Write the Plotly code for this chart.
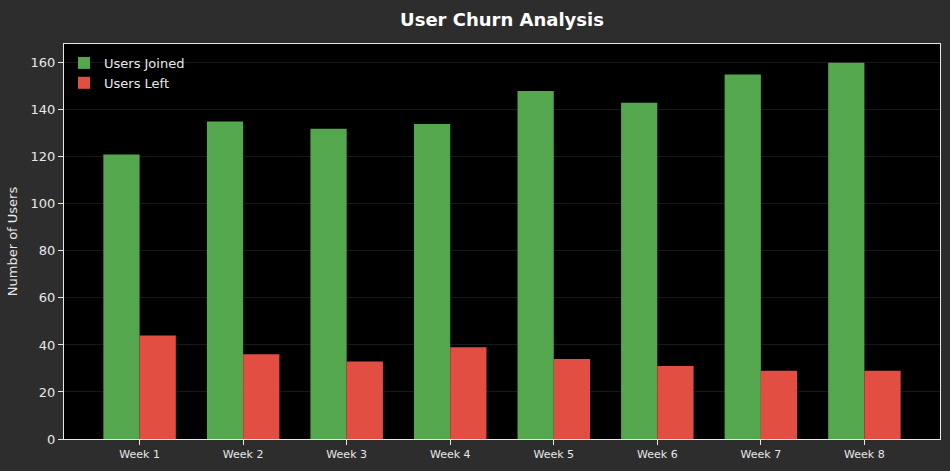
import plotly.graph_objects as go

weeks = ['Week 1', 'Week 2', 'Week 3', 'Week 4', 'Week 5', 'Week 6', 'Week 7', 'Week 8']
users_joined = [121, 135, 132, 134, 148, 143, 155, 160]
users_left = [44, 36, 33, 39, 34, 31, 29, 29]

fig = go.Figure()
fig.add_trace(go.Bar(
    x=weeks,
    y=users_joined,
    name='Users Joined',
    marker=dict(color='#55a74e', line=dict(width=0)),
))
fig.add_trace(go.Bar(
    x=weeks,
    y=users_left,
    name='Users Left',
    marker=dict(color='#e24e42', line=dict(width=0)),
))
fig.update_layout(
    width=950,
    height=471,
    barmode='group',
    bargap=0.3,
    bargroupgap=0,
    paper_bgcolor='#2d2d2d',
    plot_bgcolor='#000000',
    font=dict(family='DejaVu Sans', color='#e8e8e8', size=12),
    title=dict(
        text='<b>User Churn Analysis</b>',
        x=0.5,
        xref='paper',
        y=0.958,
        yanchor='middle',
        font=dict(size=18, color='#ffffff'),
    ),
    margin=dict(l=64, r=10, t=44, b=32),
    legend=dict(
        x=0.0,
        y=0.99,
        xanchor='left',
        yanchor='top',
        bgcolor='rgba(0,0,0,0)',
        font=dict(size=13, color='#e8e8e8'),
    ),
    xaxis=dict(
        range=[-0.73, 7.73],
        showgrid=False,
        showline=True,
        linecolor='#e8e8e8',
        linewidth=1,
        mirror=True,
        ticks='outside',
        ticklen=5,
        tickcolor='#e8e8e8',
        tickfont=dict(size=11),
    ),
    yaxis=dict(
        title=dict(text='Number of Users', font=dict(size=13), standoff=10),
        range=[0, 168],
        dtick=20,
        showgrid=True,
        gridcolor='rgba(68,68,68,0.35)',
        zeroline=False,
        showline=True,
        linecolor='#e8e8e8',
        linewidth=1,
        mirror=True,
        ticks='outside',
        ticklen=5,
        tickcolor='#e8e8e8',
        tickfont=dict(size=13),
        layer='above traces',
    ),
)
# drop the browser's default page margin so the figure fills the window
fig.write_html(
    "out.html",
    config={'displayModeBar': False},
    post_script="document.body.style.margin='0';",
)
